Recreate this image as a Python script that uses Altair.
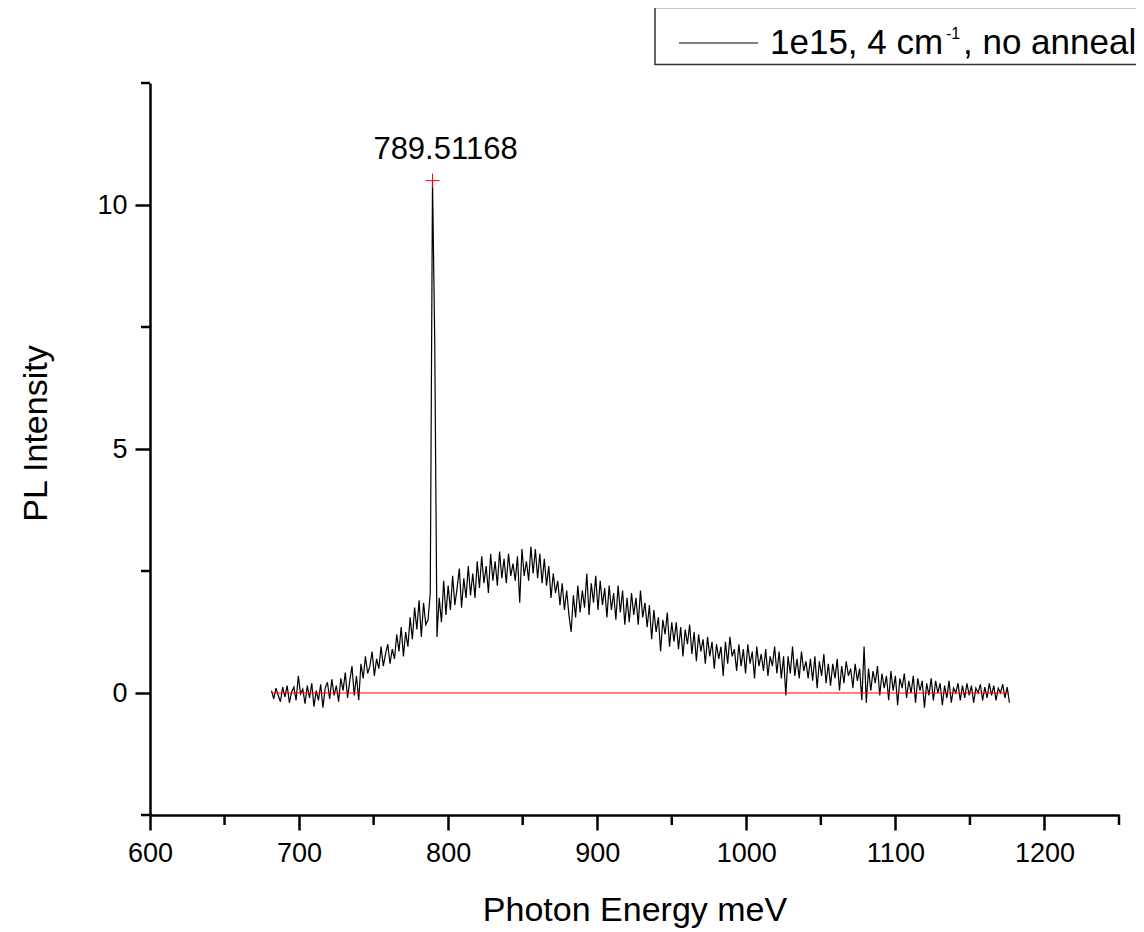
import altair as alt
import pandas as pd

# ---------------- data ----------------
ENERGY = [
    681.5, 683.0, 684.5, 686.0, 687.5, 689.0, 690.5, 692.0, 693.5, 695.0,
    696.5, 698.0, 699.5, 701.0, 702.5, 704.0, 705.5, 707.0, 708.5, 710.0,
    711.5, 713.0, 714.5, 716.0, 717.5, 719.0, 720.5, 722.0, 723.5, 725.0,
    726.5, 728.0, 729.5, 731.0, 732.5, 734.0, 735.5, 737.0, 738.5, 740.0,
    741.5, 743.0, 744.5, 746.0, 747.5, 749.0, 750.5, 752.0, 753.5, 755.0,
    756.5, 758.0, 759.5, 761.0, 762.5, 764.0, 765.5, 767.0, 768.5, 770.0,
    771.5, 773.0, 774.5, 776.0, 777.5, 779.0, 780.5, 782.0, 783.5, 785.0,
    786.5, 788.0, 789.5, 791.0, 792.5, 794.0, 795.5, 797.0, 798.5, 800.0,
    801.5, 803.0, 804.5, 806.0, 807.5, 809.0, 810.5, 812.0, 813.5, 815.0,
    816.5, 818.0, 819.5, 821.0, 822.5, 824.0, 825.5, 827.0, 828.5, 830.0,
    831.5, 833.0, 834.5, 836.0, 837.5, 839.0, 840.5, 842.0, 843.5, 845.0,
    846.5, 848.0, 849.5, 851.0, 852.5, 854.0, 855.5, 857.0, 858.5, 860.0,
    861.5, 863.0, 864.5, 866.0, 867.5, 869.0, 870.5, 872.0, 873.5, 875.0,
    876.5, 878.0, 879.5, 881.0, 882.5, 884.0, 885.5, 887.0, 888.5, 890.0,
    891.5, 893.0, 894.5, 896.0, 897.5, 899.0, 900.5, 902.0, 903.5, 905.0,
    906.5, 908.0, 909.5, 911.0, 912.5, 914.0, 915.5, 917.0, 918.5, 920.0,
    921.5, 923.0, 924.5, 926.0, 927.5, 929.0, 930.5, 932.0, 933.5, 935.0,
    936.5, 938.0, 939.5, 941.0, 942.5, 944.0, 945.5, 947.0, 948.5, 950.0,
    951.5, 953.0, 954.5, 956.0, 957.5, 959.0, 960.5, 962.0, 963.5, 965.0,
    966.5, 968.0, 969.5, 971.0, 972.5, 974.0, 975.5, 977.0, 978.5, 980.0,
    981.5, 983.0, 984.5, 986.0, 987.5, 989.0, 990.5, 992.0, 993.5, 995.0,
    996.5, 998.0, 999.5, 1001.0, 1002.5, 1004.0, 1005.5, 1007.0, 1008.5, 1010.0,
    1011.5, 1013.0, 1014.5, 1016.0, 1017.5, 1019.0, 1020.5, 1022.0, 1023.5, 1025.0,
    1026.5, 1028.0, 1029.5, 1031.0, 1032.5, 1034.0, 1035.5, 1037.0, 1038.5, 1040.0,
    1041.5, 1043.0, 1044.5, 1046.0, 1047.5, 1049.0, 1050.5, 1052.0, 1053.5, 1055.0,
    1056.5, 1058.0, 1059.5, 1061.0, 1062.5, 1064.0, 1065.5, 1067.0, 1068.5, 1070.0,
    1071.5, 1073.0, 1074.5, 1076.0, 1077.5, 1079.0, 1080.5, 1082.0, 1083.5, 1085.0,
    1086.5, 1088.0, 1089.5, 1091.0, 1092.5, 1094.0, 1095.5, 1097.0, 1098.5, 1100.0,
    1101.5, 1103.0, 1104.5, 1106.0, 1107.5, 1109.0, 1110.5, 1112.0, 1113.5, 1115.0,
    1116.5, 1118.0, 1119.5, 1121.0, 1122.5, 1124.0, 1125.5, 1127.0, 1128.5, 1130.0,
    1131.5, 1133.0, 1134.5, 1136.0, 1137.5, 1139.0, 1140.5, 1142.0, 1143.5, 1145.0,
    1146.5, 1148.0, 1149.5, 1151.0, 1152.5, 1154.0, 1155.5, 1157.0, 1158.5, 1160.0,
    1161.5, 1163.0, 1164.5, 1166.0, 1167.5, 1169.0, 1170.5, 1172.0, 1173.5, 1175.0,
    1176.5,
]

INTENSITY = [
    0.05, -0.12, 0.10, -0.05, -0.18, 0.12, -0.08, 0.15, -0.20, 0.02,
    0.12, -0.15, 0.35, -0.02, 0.08, -0.22, 0.15, -0.10, 0.20, -0.28,
    0.05, -0.15, 0.18, -0.30, 0.10, 0.22, -0.12, 0.28, -0.05, 0.15,
    -0.18, 0.30, 0.05, 0.42, -0.10, 0.25, 0.55, -0.05, 0.35, -0.15,
    0.60, 0.30, 0.75, 0.40, 0.55, 0.85, 0.35, 0.70, 0.50, 0.95,
    0.55, 0.80, 1.00, 0.60, 0.90, 0.70, 1.20, 0.85, 1.35, 0.75,
    1.25, 0.95, 1.55, 1.10, 1.75, 1.30, 1.90, 1.15, 1.85, 1.40,
    1.50, 2.05, 10.50, 7.20, 1.15, 1.95, 1.45, 2.30, 1.60, 2.20,
    1.70, 2.40, 1.80, 2.15, 2.55, 1.75, 2.35, 1.95, 2.60, 2.00,
    2.45, 1.95, 2.70, 2.15, 2.80, 2.25, 2.60, 2.05, 2.85, 2.30,
    2.70, 2.20, 2.90, 2.35, 2.75, 2.25, 2.85, 2.40, 2.65, 2.30,
    2.80, 1.85, 2.95, 2.40, 2.70, 2.30, 3.00, 2.45, 2.95, 2.35,
    2.85, 2.25, 2.75, 2.20, 2.60, 1.95, 2.45, 2.05, 2.30, 1.80,
    2.25, 1.70, 2.10, 1.60, 1.25, 2.00, 1.55, 2.20, 1.65, 2.10,
    1.75, 2.45, 1.60, 2.25, 1.85, 2.40, 1.70, 2.30, 1.80, 2.15,
    1.55, 2.20, 1.70, 2.05, 1.50, 2.20, 1.65, 2.10, 1.40, 1.95,
    1.45, 2.05, 1.60, 1.95, 1.40, 2.10, 1.55, 1.85, 1.35, 1.80,
    1.10, 1.70, 1.25, 1.55, 0.85, 1.50, 1.20, 1.65, 0.95, 1.45,
    1.05, 1.45, 0.90, 1.35, 0.75, 1.30, 1.00, 1.40, 0.80, 1.25,
    0.65, 1.20, 0.85, 1.10, 0.60, 1.15, 0.75, 1.05, 0.50, 1.00,
    0.70, 0.95, 0.35, 1.05, 0.60, 1.15, 0.75, 0.90, 0.45, 1.00,
    0.55, 0.90, 0.40, 1.00, 0.60, 0.85, 0.30, 0.95, 0.55, 0.80,
    0.45, 0.90, 0.35, 0.75, 0.55, 0.95, 0.40, 0.85, 0.30, 0.75,
    -0.05, 0.75, 0.40, 0.95, 0.35, 0.70, 0.30, 0.85, 0.45, 0.65,
    0.30, 0.70, 0.25, 0.75, 0.10, 0.65, 0.35, 0.80, 0.20, 0.60,
    0.15, 0.60, 0.30, 0.70, 0.05, 0.55, 0.20, 0.65, 0.35, 0.50,
    0.10, 0.60, 0.25, 0.50, -0.15, 0.95, -0.20, 0.50, 0.05, 0.45,
    0.20, 0.55, -0.05, 0.40, 0.10, 0.35, -0.15, 0.45, 0.05, 0.35,
    -0.25, 0.30, 0.10, 0.40, -0.10, 0.25, 0.00, 0.35, -0.20, 0.30,
    0.05, 0.25, -0.30, 0.20, -0.05, 0.30, -0.15, 0.25, 0.00, 0.20,
    -0.25, 0.15, -0.10, 0.25, -0.20, 0.10, 0.00, 0.20, -0.15, 0.15,
    -0.10, 0.20, -0.05, 0.15, -0.20, 0.10, 0.00, 0.18, -0.15, 0.12,
    -0.10, 0.20, -0.05, 0.15, -0.15, 0.10, 0.00, 0.18, -0.10, 0.12,
    -0.20,
]

BASELINE_ENERGY = [681.5, 1176.5]
BASELINE_LEVEL = [0.0, 0.0]

PEAK_ENERGY = [789.51168]
PEAK_INTENSITY = [10.5]
PEAK_LABEL = ["789.51168"]

X_MAJOR = [600, 700, 800, 900, 1000, 1100, 1200]
X_MINOR = [650, 750, 850, 950, 1050, 1150, 1250]
Y_MAJOR = [0, 5, 10]
Y_MINOR = [-2.5, 2.5, 7.5, 12.5]

LEGEND_MAIN = ["1e15, 4 cm"]
LEGEND_SUP = ["-1"]
LEGEND_TAIL = [", no anneal"]

# ---------------- tables ----------------
spec_df = pd.DataFrame({"energy": ENERGY, "intensity": INTENSITY})
base_df = pd.DataFrame({"energy": BASELINE_ENERGY, "intensity": BASELINE_LEVEL})
peak_df = pd.DataFrame({"energy": PEAK_ENERGY, "intensity": PEAK_INTENSITY, "label": PEAK_LABEL})
xminor_df = pd.DataFrame({"energy": X_MINOR})
yminor_df = pd.DataFrame({"intensity": Y_MINOR})
legend_df = pd.DataFrame({"t1": LEGEND_MAIN, "t2": LEGEND_SUP, "t3": LEGEND_TAIL})

FONT = "Liberation Sans"
W, H = 969, 732

x_scale = alt.Scale(domain=[600, 1250], nice=False, zero=False)
y_scale = alt.Scale(domain=[-2.5, 12.5], nice=False, zero=False)

x_axis = alt.Axis(
    values=X_MAJOR,
    format="d",
    title="Photon Energy meV",
    grid=False,
    domainColor="black", domainWidth=2.5,
    tickColor="black", tickWidth=2.5, tickSize=15,
    labelFont=FONT, labelFontSize=27, labelColor="black",
    labelPadding=10, labelFlush=False, labelOverlap=False,
    titleFont=FONT, titleFontSize=34, titleFontWeight="normal", titleColor="black",
    titleX=W / 2, titleY=78, titleBaseline="top", titleAlign="center",
)

y_axis = alt.Axis(
    values=Y_MAJOR,
    format="d",
    title="PL Intensity",
    grid=False,
    domainColor="black", domainWidth=2.5,
    tickColor="black", tickWidth=2.5, tickSize=15,
    labelFont=FONT, labelFontSize=27, labelColor="black",
    labelPadding=8, labelFlush=False, labelOverlap=False,
    titleFont=FONT, titleFontSize=34, titleFontWeight="normal", titleColor="black",
    titleX=-97, titleY=350, titleBaseline="bottom", titleAlign="center", titleAngle=270,
)

spectrum = alt.Chart(spec_df).mark_line(color="black", strokeWidth=1.2).encode(
    x=alt.X("energy:Q", scale=x_scale, axis=x_axis),
    y=alt.Y("intensity:Q", scale=y_scale, axis=y_axis),
    order="energy:Q",
)

baseline = alt.Chart(base_df).mark_line(color="#ff0000", strokeWidth=1.2).encode(
    x=alt.X("energy:Q", scale=x_scale),
    y=alt.Y("intensity:Q", scale=y_scale),
)

x_minor = alt.Chart(xminor_df).mark_rule(color="black", strokeWidth=2.5).encode(
    x=alt.X("energy:Q", scale=x_scale),
    y=alt.value(H), y2=alt.value(H + 10),
)
y_minor = alt.Chart(yminor_df).mark_rule(color="black", strokeWidth=2.5).encode(
    y=alt.Y("intensity:Q", scale=y_scale),
    x=alt.value(0), x2=alt.value(-9),
)

marker = alt.Chart(peak_df).mark_point(
    shape="M-1,0L1,0M0,-1L0,1", size=196, color="red", filled=False, strokeWidth=1, opacity=1
).encode(
    x=alt.X("energy:Q", scale=x_scale),
    y=alt.Y("intensity:Q", scale=y_scale),
)

peak_label = alt.Chart(peak_df).mark_text(
    font=FONT, fontSize=31, color="black", align="center", baseline="alphabetic", dx=13, dy=-22
).encode(
    x=alt.X("energy:Q", scale=x_scale),
    y=alt.Y("intensity:Q", scale=y_scale),
    text="label:N",
)

legend_box = alt.Chart(legend_df).mark_rect(fill="white", stroke="#333333", strokeWidth=1.5).encode(
    x=alt.value(505), x2=alt.value(1000), y=alt.value(-75.4), y2=alt.value(-18.4)
)
legend_line = alt.Chart(legend_df).mark_rule(color="black", strokeWidth=1).encode(
    x=alt.value(529), x2=alt.value(608), y=alt.value(-40)
)
legend_t1 = alt.Chart(legend_df).mark_text(
    font=FONT, fontSize=35, color="black", align="left", baseline="alphabetic"
).encode(x=alt.value(620), y=alt.value(-28.7), text="t1:N")
legend_t2 = alt.Chart(legend_df).mark_text(
    font=FONT, fontSize=16, color="black", align="left", baseline="alphabetic"
).encode(x=alt.value(796), y=alt.value(-44.5), text="t2:N")
legend_t3 = alt.Chart(legend_df).mark_text(
    font=FONT, fontSize=35, color="black", align="left", baseline="alphabetic"
).encode(x=alt.value(813), y=alt.value(-28.7), text="t3:N")

chart = alt.layer(
    spectrum, baseline, x_minor, y_minor, marker, peak_label,
    legend_box, legend_line, legend_t1, legend_t2, legend_t3,
).properties(
    width=W,
    height=H,
    autosize=alt.AutoSizeParams(type="none"),
    padding={"left": 142, "top": 75, "right": 17, "bottom": 115},
    background="white",
).configure_view(stroke=None)

chart.save("out.html", embed_options={"renderer": "svg", "actions": False})
